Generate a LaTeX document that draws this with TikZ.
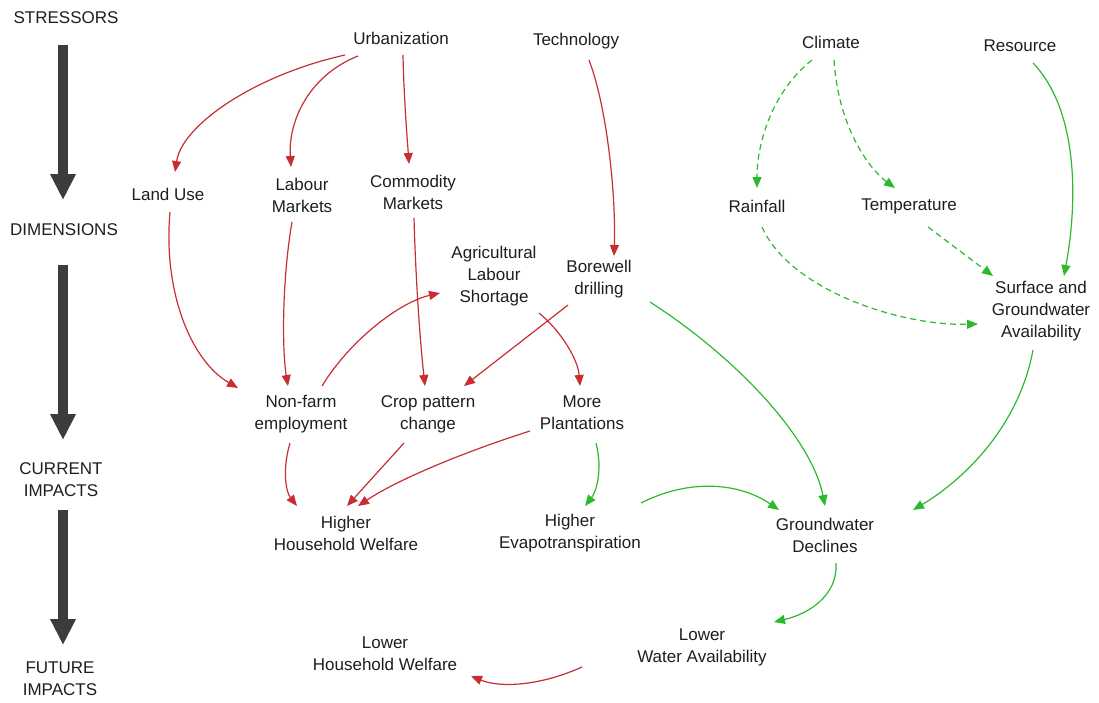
\documentclass[tikz,border=0pt]{standalone}
\usepackage{fontspec}
\setmainfont{Liberation Sans}
\usetikzlibrary{arrows.meta}
\definecolor{cred}{RGB}{200,45,50}
\definecolor{cgreen}{RGB}{45,185,45}
\definecolor{cgray}{RGB}{60,60,60}
\definecolor{ctext}{RGB}{30,30,30}
\tikzset{
  lbl/.style={align=center,inner sep=0pt,font=\fontsize{17}{22}\selectfont,text=ctext},
  rarr/.style={draw=cred,line width=1.2pt,-{Triangle[length=11pt,width=9pt]}},
  garr/.style={draw=cgreen,line width=1.2pt,-{Triangle[length=11pt,width=9pt]}},
  gdash/.style={garr,dash pattern=on 6pt off 4pt},
  bigarr/.style={draw=cgray,line width=10pt,-{Triangle[length=26pt,width=24pt]}}
}
\begin{document}
\begin{tikzpicture}[x=1pt,y=1pt]
\useasboundingbox (0,0) rectangle (1099,-702);
% stage labels
\node[lbl] (stress) at (66,-18) {STRESSORS};
\node[lbl] (dims) at (64,-230) {DIMENSIONS};
\node[lbl] (cur) at (61,-480) {CURRENT\\IMPACTS};
\node[lbl] (fut) at (60,-679) {FUTURE\\IMPACTS};
\draw[bigarr] ([shift={(-3,-27)}]stress.center) -- ([shift={(-1,30)}]dims.center);
\draw[bigarr] ([shift={(-1,-35)}]dims.center) -- ([shift={(2,40)}]cur.center);
\draw[bigarr] ([shift={(2,-30)}]cur.center) -- ([shift={(3,34)}]fut.center);
% nodes
\node[lbl] (urb) at (401,-38) {Urbanization};
\node[lbl] (tech) at (576,-41) {Technology};
\node[lbl] (clim) at (831,-42) {Climate};
\node[lbl] (res) at (1020,-46) {Resource};
\node[lbl] (land) at (168,-194) {Land Use};
\node[lbl] (labour) at (302,-195) {Labour\\Markets};
\node[lbl] (comm) at (413,-192) {Commodity\\Markets};
\node[lbl] (rain) at (757,-206) {Rainfall};
\node[lbl] (temp) at (909,-206) {Temperature};
\node[lbl] (agl) at (494,-276) {Agricultural\\Labour\\Shortage};
\node[lbl] (bore) at (599,-279) {Borewell\\drilling};
\node[lbl] (surf) at (1041,-311) {Surface and\\Groundwater\\Availability};
\node[lbl] (nonfarm) at (301,-414) {Non-farm\\employment};
\node[lbl] (crop) at (428,-414) {Crop pattern\\change};
\node[lbl] (plant) at (582,-413) {More\\Plantations};
\node[lbl] (hhw) at (346,-533) {Higher\\Household Welfare};
\node[lbl] (evap) at (570,-533) {Higher\\Evapotranspiration};
\node[lbl] (gd) at (825,-535) {Groundwater\\Declines};
\node[lbl] (lwa) at (702,-647) {Lower\\Water Availability};
\node[lbl] (lhhw) at (385,-654) {Lower\\Household Welfare};
% red connectors
\draw[rarr] ([shift={(-56,-17)}]urb.center) .. controls (255,-75) and (182,-125) .. ([shift={(7,22)}]land.center);
\draw[rarr] ([shift={(-43,-18)}]urb.center) .. controls (310,-75) and (288,-120) .. ([shift={(-11,28)}]labour.center);
\draw[rarr] ([shift={(2,-17)}]urb.center) .. controls (404,-100) and (407,-135) .. ([shift={(-4,28)}]comm.center);
\draw[rarr] ([shift={(13,-19)}]tech.center) .. controls (608,-110) and (616,-200) .. ([shift={(15,23)}]bore.center);
\draw[rarr] ([shift={(2,-18)}]land.center) .. controls (163,-290) and (190,-360) .. ([shift={(-63,26)}]nonfarm.center);
\draw[rarr] ([shift={(-10,-27)}]labour.center) .. controls (282,-280) and (282,-350) .. ([shift={(-13,28)}]nonfarm.center);
\draw[rarr] ([shift={(1,-26)}]comm.center) .. controls (416,-290) and (421,-350) .. ([shift={(-3,28)}]crop.center);
\draw[rarr] ([shift={(21,28)}]nonfarm.center) .. controls (350,-340) and (400,-302) .. ([shift={(-54,-17)}]agl.center);
\draw[rarr] ([shift={(-31,-26)}]bore.center) -- ([shift={(36,28)}]crop.center);
\draw[rarr] ([shift={(45,-37)}]agl.center) .. controls (562,-332) and (578,-360) .. ([shift={(-2,27)}]plant.center);
\draw[rarr] ([shift={(-11,-29)}]nonfarm.center) .. controls (282,-470) and (286,-492) .. ([shift={(-49,27)}]hhw.center);
\draw[rarr] ([shift={(-24,-29)}]crop.center) -- ([shift={(1,27)}]hhw.center);
\draw[rarr] ([shift={(-52,-18)}]plant.center) .. controls (470,-450) and (400,-478) .. ([shift={(12,27)}]hhw.center);
\draw[rarr] ([shift={(-120,-20)}]lwa.center) .. controls (540,-686) and (500,-688) .. ([shift={(86,-22)}]lhhw.center);
% green connectors
\draw[garr] ([shift={(14,-30)}]plant.center) .. controls (603,-470) and (596,-492) .. ([shift={(15,27)}]evap.center);
\draw[garr] ([shift={(71,30)}]evap.center) .. controls (690,-478) and (740,-483) .. ([shift={(-46,25)}]gd.center);
\draw[garr] ([shift={(51,-23)}]bore.center) .. controls (740,-360) and (812,-440) .. ([shift={(0,29)}]gd.center);
\draw[garr] ([shift={(13,-17)}]res.center) .. controls (1078,-110) and (1078,-200) .. ([shift={(23,35)}]surf.center);
\draw[garr] ([shift={(-8,-39)}]surf.center) .. controls (1018,-430) and (960,-482) .. ([shift={(88,25)}]gd.center);
\draw[garr] ([shift={(11,-28)}]gd.center) .. controls (838,-596) and (808,-614) .. ([shift={(72,25)}]lwa.center);
% green dashed connectors
\draw[gdash] ([shift={(-19,-18)}]clim.center) .. controls (774,-90) and (757,-140) .. ([shift={(0,18)}]rain.center);
\draw[gdash] ([shift={(3,-18)}]clim.center) .. controls (838,-125) and (868,-168) .. ([shift={(-14,18)}]temp.center);
\draw[gdash] ([shift={(19,-21)}]temp.center) -- ([shift={(-48,35)}]surf.center);
\draw[gdash] ([shift={(5,-21)}]rain.center) .. controls (790,-290) and (900,-326) .. ([shift={(-63,-13)}]surf.center);
\end{tikzpicture}
\end{document}
